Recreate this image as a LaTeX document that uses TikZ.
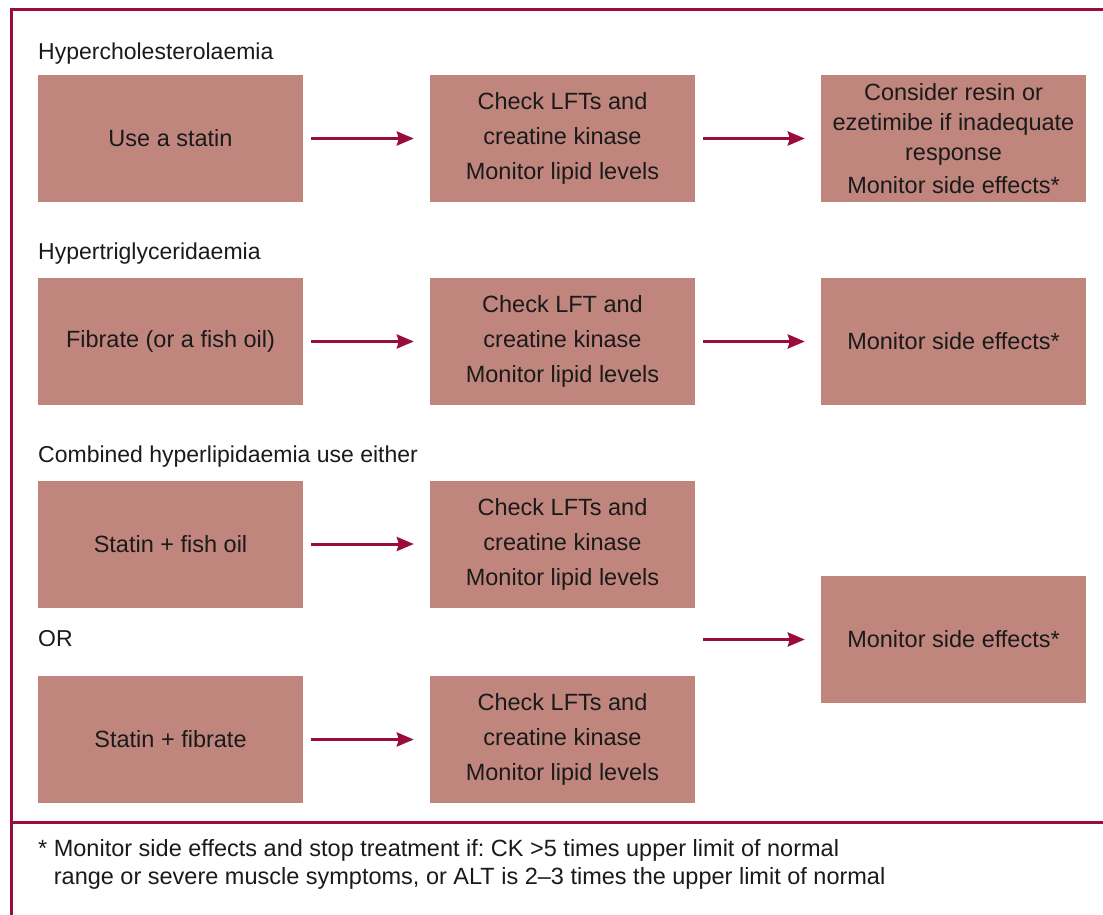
\documentclass[tikz,border=0pt]{standalone}
\usepackage{fontspec}
\setmainfont{Liberation Sans}
\usetikzlibrary{arrows.meta}
\definecolor{frame}{HTML}{9A0C3E}
\definecolor{boxfill}{HTML}{C0867E}
\definecolor{txt}{HTML}{1A1A1A}
\tikzset{
  x=1pt,y=-1pt,
  stepbox/.style={fill=boxfill,minimum width=265pt,minimum height=127pt,inner sep=0pt,align=center,text=txt,font=\fontsize{23.5}{35}\selectfont,execute at begin node={\vspace*{5pt}}},
  heading/.style={anchor=base west,inner sep=0pt,text=txt,font=\fontsize{23}{27}\selectfont},
  flow/.style={draw=frame,line width=3pt,-{Stealth[length=17pt,width=14pt,inset=2pt]},shorten <=8pt,shorten >=16pt,yshift=-1.5pt},
}
\begin{document}
\frenchspacing
\begin{tikzpicture}
\useasboundingbox (0,0) rectangle (1103,915);
% frame
\draw[frame,line width=3pt] (1103,9.5) -- (11.5,9.5) -- (11.5,915);
\draw[frame,line width=3pt] (11.5,822) -- (1103,822);
% headings
\node[heading] (h1) at (38,60) {Hypercholesterolaemia};
\node[heading] (h2) at (38,259) {Hypertriglyceridaemia};
\node[heading] (h3) at (38,462) {Combined hyperlipidaemia use either};
\node[heading] (or) at (38,646) {OR};
% row 1
\node[stepbox] (a1) at (170.5,138.5) {Use a statin};
\node[stepbox] (b1) at (562.5,138.5) {Check LFTs and\\creatine kinase\\Monitor lipid levels};
\node[stepbox,font=\fontsize{23.5}{30}\selectfont] (c1) at (953.5,138.5) {Consider resin or\\ezetimibe if inadequate\\response\\[3pt]Monitor side effects*};
% row 2
\node[stepbox] (a2) at (170.5,341.5) {Fibrate (or a fish oil)};
\node[stepbox] (b2) at (562.5,341.5) {Check LFT and\\creatine kinase\\Monitor lipid levels};
\node[stepbox] (c2) at (953.5,341.5) {Monitor side effects*};
% row 3
\node[stepbox] (a3) at (170.5,544) {Statin + fish oil};
\node[stepbox] (b3) at (562.5,544) {Check LFTs and\\creatine kinase\\Monitor lipid levels};
% row 4
\node[stepbox] (a4) at (170.5,739.5) {Statin + fibrate};
\node[stepbox] (b4) at (562.5,739.5) {Check LFTs and\\creatine kinase\\Monitor lipid levels};
% shared
\node[stepbox] (c3) at (953.5,639.5) {Monitor side effects*};
\coordinate (m) at (695,639.5);
% arrows
\draw[flow] (a1) -- (b1);
\draw[flow] (b1) -- (c1);
\draw[flow] (a2) -- (b2);
\draw[flow] (b2) -- (c2);
\draw[flow] (a3) -- (b3);
\draw[flow] (a4) -- (b4);
\draw[flow] (m) -- (c3.west);
% footnote
\node[anchor=base west,inner sep=0pt,align=left,text=txt,font=\fontsize{23.5}{28}\selectfont] (fn) at (38,884)
 {* Monitor side effects and stop treatment if: CK >5 times upper limit of normal\\
 \phantom{* }range or severe muscle symptoms, or ALT is 2--3 times the upper limit of normal};
\end{tikzpicture}
\end{document}
